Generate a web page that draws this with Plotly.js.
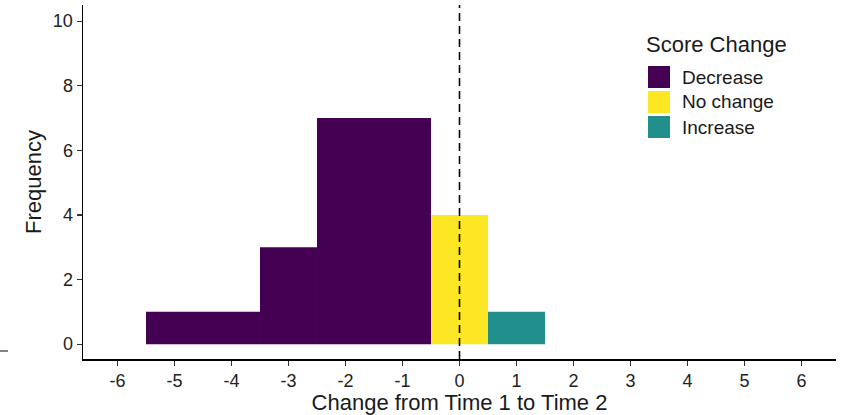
<!DOCTYPE html>
<html>
<head>
<meta charset="utf-8">
<script src="https://cdn.plot.ly/plotly-3.0.1.min.js"></script>
<style>html,body{margin:0;padding:0;background:#fff;}#chart{width:845px;height:415px;}</style>
</head>
<body>
<div id="chart"></div>
<script>
const decreaseX = [-5, -4, -3, -2, -1];
const decreaseY = [1, 1, 3, 7, 7];
const noChangeX = [0];
const noChangeY = [4];
const increaseX = [1];
const increaseY = [1];
const groupNames = ["Decrease", "No change", "Increase"];
const groupColors = ["#440154", "#FDE725", "#21908C"];
const xTicks = [-6, -5, -4, -3, -2, -1, 0, 1, 2, 3, 4, 5, 6];
const yTicks = [0, 2, 4, 6, 8, 10];

const L = 83, R = 836, T = 5, B = 359;
const W = R - L, H = B - T;
const px = v => (v - L) / W;
const py = v => (B - v) / H;

const mk = (x, y, i) => ({
  type: 'bar', x: x, y: y, width: 1, name: groupNames[i],
  marker: {color: groupColors[i], line: {width: 0}}, showlegend: false,
  hoverinfo: 'x+y'
});

const data = [mk(decreaseX, decreaseY, 0), mk(noChangeX, noChangeY, 1), mk(increaseX, increaseY, 2)];

const shapes = [
  {type: 'line', xref: 'x', yref: 'paper', x0: 0, x1: 0, y0: 0, y1: 1,
   line: {color: '#000', width: 1.6, dash: '8px,5px'}, layer: 'above'}
];
const annotations = [
  {xref: 'paper', yref: 'paper', x: px(644), y: py(45), xanchor: 'left', yanchor: 'middle',
   text: 'Score Change', showarrow: false, font: {size: 22, color: '#1a1a1a'}}
];
groupNames.forEach((n, i) => {
  const top = 66 + i * 25;
  shapes.push({type: 'rect', xref: 'paper', yref: 'paper', x0: px(648), x1: px(670),
    y0: py(top + 22), y1: py(top), fillcolor: groupColors[i], line: {width: 0}});
  annotations.push({xref: 'paper', yref: 'paper', x: px(680), y: py(top + 11), xanchor: 'left', yanchor: 'middle',
    text: n, showarrow: false, font: {size: 19, color: '#1a1a1a'}});
});
// small stray tick at far left
shapes.push({type: 'line', xref: 'paper', yref: 'paper', x0: px(0), x1: px(8), y0: py(351), y1: py(351),
  line: {color: '#333', width: 1.2}});

const layout = {
  width: 845, height: 415,
  margin: {l: L, r: 845 - R, t: T, b: 415 - B},
  paper_bgcolor: '#fff', plot_bgcolor: '#fff',
  font: {family: 'Liberation Sans, Arial, sans-serif', color: '#1a1a1a'},
  barmode: 'overlay',
  showlegend: false,
  xaxis: {
    range: [-6.605, 6.605], tickmode: 'array', tickvals: xTicks, ticktext: xTicks.map(String),
    showgrid: false, zeroline: false, showline: true, linecolor: '#000', linewidth: 1.5,
    ticks: 'outside', ticklen: 5, tickwidth: 1.2, tickcolor: '#333',
    tickfont: {size: 18, color: '#222'},
    title: {text: 'Change from Time 1 to Time 2', font: {size: 22, color: '#1a1a1a'}, standoff: 1}
  },
  yaxis: {
    range: [-0.46, 10.5], tickmode: 'array', tickvals: yTicks, ticktext: yTicks.map(String),
    showgrid: false, zeroline: false, showline: true, linecolor: '#000', linewidth: 1.5,
    ticks: 'outside', ticklen: 5, tickwidth: 1.2, tickcolor: '#333',
    tickfont: {size: 18, color: '#222'},
    title: {text: 'Frequency', font: {size: 22, color: '#1a1a1a'}, standoff: 5}
  },
  shapes: shapes,
  annotations: annotations
};

Plotly.newPlot('chart', data, layout, {displayModeBar: false, staticPlot: true});
</script>
</body>
</html>
